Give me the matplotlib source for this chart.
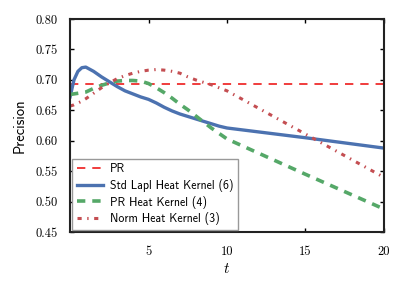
import numpy as np
import matplotlib
matplotlib.use("Agg")
import matplotlib.pyplot as plt
from matplotlib.ticker import FixedLocator, FuncFormatter

plt.rcParams['mathtext.fontset'] = 'cm'

t = [0, 0.25, 0.5, 0.75, 1, 1.5, 2, 2.5, 3, 3.5, 4, 4.5, 5, 5.5, 6, 6.5,
     7, 7.5, 8, 8.5, 9, 9.5, 10, 15, 20]

pr = [0.694] * len(t)

std_lapl = [0.672, 0.700, 0.714, 0.720, 0.721, 0.714, 0.705, 0.697, 0.689,
            0.682, 0.677, 0.672, 0.668, 0.662, 0.655, 0.649, 0.644, 0.640,
            0.636, 0.632, 0.628, 0.624, 0.621, 0.605, 0.588]

pr_heat = [0.676, 0.677, 0.678, 0.679, 0.680, 0.686, 0.691, 0.695, 0.698,
           0.699, 0.699, 0.698, 0.694, 0.687, 0.679, 0.670, 0.660, 0.651,
           0.641, 0.631, 0.621, 0.612, 0.603, 0.545, 0.488]

norm_heat = [0.657, 0.659, 0.662, 0.665, 0.669, 0.678, 0.687, 0.695, 0.702,
             0.707, 0.711, 0.714, 0.716, 0.717, 0.716, 0.714, 0.711, 0.705,
             0.700, 0.696, 0.692, 0.687, 0.682, 0.611, 0.540]

labels = ["PR", "Std Lapl Heat Kernel (6)", "PR Heat Kernel (4)",
          "Norm Heat Kernel (3)"]

x_ticks = [5, 10, 15, 20]
y_ticks = [0.45, 0.50, 0.55, 0.60, 0.65, 0.70, 0.75, 0.80]

plt.rcParams['lines.scale_dashes'] = False

fig = plt.figure(figsize=(4.05, 2.92), dpi=100)
ax = fig.add_axes([0.173, 0.205, 0.775, 0.73])

ax.plot(t, pr, color='#f03c3c', lw=1.4, dashes=(6, 5), label=labels[0])
ax.plot(t, std_lapl, color='#4c72b0', lw=2.4, label=labels[1])
ax.plot(t, pr_heat, color='#55a868', lw=2.6, dashes=(6, 5), label=labels[2])
ax.plot(t, norm_heat, color='#c44e52', lw=2.2, dashes=(3, 4, 1, 4),
        label=labels[3])

ax.set_xlim(0, 20)
ax.set_ylim(0.45, 0.80)
ax.xaxis.set_major_locator(FixedLocator(x_ticks))
ax.yaxis.set_major_locator(FixedLocator(y_ticks))
ax.xaxis.set_major_formatter(FuncFormatter(lambda v, p: "%d" % v))
ax.yaxis.set_major_formatter(FuncFormatter(lambda v, p: "%.2f" % v))
ax.tick_params(direction='in', length=3, width=1, top=True, right=True,
               labelsize=9)
ax.tick_params(axis='x', pad=10)
ax.tick_params(axis='y', pad=9)
for lab in ax.get_xticklabels() + ax.get_yticklabels():
    lab.set_family('cmr10')

for sp in ax.spines.values():
    sp.set_linewidth(1.5)
    sp.set_color('#222222')

ax.set_xlabel("$t$", fontsize=11, labelpad=2)
ax.set_ylabel("Precision", family='cmss10', fontsize=10.5, labelpad=6)

leg = ax.legend(loc='lower left', prop={'family': 'cmss10', 'size': 8.5},
                handlelength=2.2, fancybox=False, framealpha=1,
                edgecolor='#999999', borderpad=0.4, labelspacing=0.3,
                borderaxespad=0.2, handletextpad=0.6)
leg.get_frame().set_linewidth(1.0)

fig.savefig("out.png", dpi=100)
